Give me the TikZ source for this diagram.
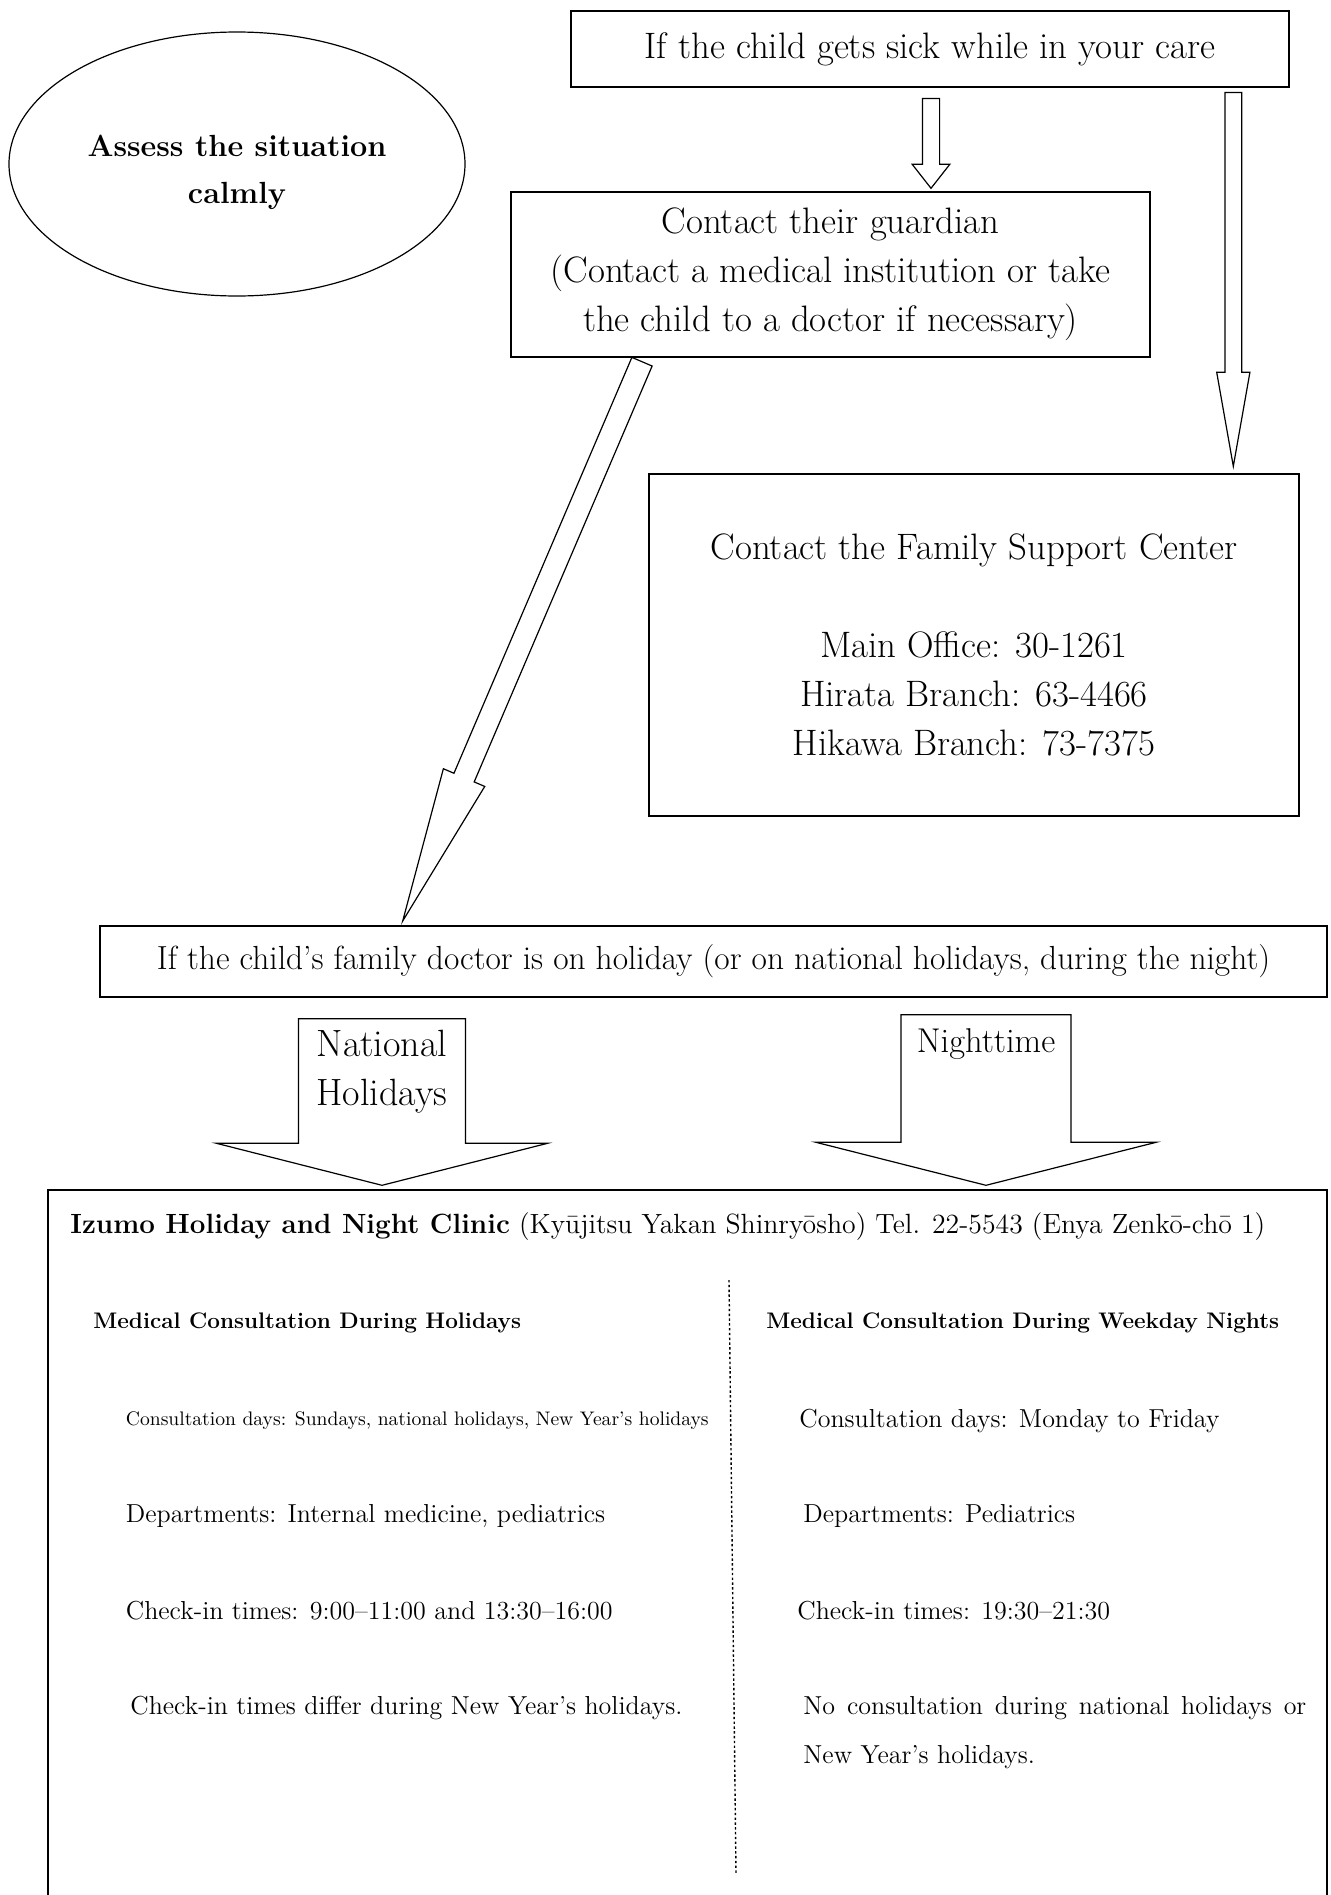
\documentclass[tikz,border=0pt]{standalone}
\usepackage{fontspec}
\usetikzlibrary{shapes.geometric,calc}

\tikzset{
	box/.style={draw,line width=0.7pt,rectangle,inner sep=0pt},
	fatline/.style={draw,line width=0.6pt,line join=miter},
	main/.style={font=\fontsize{18.4}{24.5}\selectfont,align=center},
	item/.style={font=\fontsize{13}{24.5}\selectfont,inner sep=0pt,anchor=west},
	head/.style={font=\fontsize{11.25}{14}\selectfont\bfseries,inner sep=0pt,anchor=west}
}

% hollow block arrow: start, tip, half shaft, half head, head length
\newcommand{\fatarrow}[5]{%
	\path ($(#2)!#5!(#1)$) coordinate (fa);
	\draw[fatline] ($(#1)!#3!90:(#2)$) -- ($(fa)!#3!-90:(#1)$) -- ($(fa)!#4!-90:(#1)$) -- (#2)
		-- ($(fa)!#4!90:(#1)$) -- ($(fa)!#3!90:(#1)$) -- ($(#1)!#3!-90:(#2)$) -- cycle;
}

\begin{document}
\begin{tikzpicture}[x=0.5pt,y=-0.5pt]
			\useasboundingbox (0,0) rectangle (1330,1895);
			% boxes
			\node[box,main,minimum width=359pt,minimum height=38pt] (top) at (930,49) {If the child gets sick while in your care};
			\node[draw,ellipse,line width=0.6pt,minimum width=228pt,minimum height=132pt] (calm) at (237,164) {};
			\node[font=\fontsize{15.3}{23.5}\selectfont\bfseries,align=center] (calmtext) at (237,172) {Assess the situation\\calmly};
			\node[box,main,minimum width=319.5pt,minimum height=82.5pt] (guardian) at (830.5,274.5) {Contact their guardian\\(Contact a medical institution or take\\the child to a doctor if necessary)};
			\node[box,main,minimum width=325pt,minimum height=171pt] (fsc) at (974,645) {Contact the Family Support Center\\[24.5pt]Main Office: 30-1261\\Hirata Branch: 63-4466\\Hikawa Branch: 73-7375};
			\node[box,minimum width=613.5pt,minimum height=35.5pt,font=\fontsize{16.7}{20}\selectfont] (doctor) at (713.5,961.5) {If the child’s family doctor is on holiday (or on national holidays, during the night)};
			\node[box,minimum width=639.5pt,minimum height=360pt] (clinic) at (687.5,1550) {};
			% arrows
			\coordinate (a1s) at ($(top.south)+(1,10.7)$);
			\coordinate (a1t) at ($(guardian.north)+(100.5,-3)$);
			\fatarrow{a1s}{a1t}{4.3pt}{9.4pt}{12pt}
			\coordinate (a2s) at ($(top.south)+(303.3,4.7)$);
			\coordinate (a2t) at ($(fsc.north)+(259.3,-7)$);
			\fatarrow{a2s}{a2t}{4.2pt}{8.3pt}{47pt}
			\coordinate (a3s) at ($(guardian.south)+(-188.5,4)$);
			\coordinate (a3t) at ($(doctor.north)+(-310.8,-4.3)$);
			\fatarrow{a3s}{a3t}{5.5pt}{11.25pt}{78pt}
			\coordinate (a4s) at ($(doctor.south)+(-331.5,21)$);
			\coordinate (a4t) at ($(clinic.north)+(-305.5,-4)$);
			\fatarrow{a4s}{a4t}{41.75pt}{82.75pt}{21pt}
			\coordinate (a5s) at ($(doctor.south)+(272.5,17)$);
			\coordinate (a5t) at ($(clinic.north)+(298.5,-4)$);
			\fatarrow{a5s}{a5t}{42.5pt}{85pt}{21.5pt}
			\node[main,font=\fontsize{19}{24.5}\selectfont] (natl) at (382,1072) {National\\Holidays};
			\node[main,font=\fontsize{17.2}{24.5}\selectfont] (night) at (986,1044) {Nighttime};
			% clinic
			\node[item,font=\fontsize{13.9}{16}\selectfont] (name) at (70,1227) {\textbf{Izumo Holiday and Night Clinic} (Kyūjitsu Yakan Shinryōsho) Tel. 22-5543 (Enya Zenkō-chō 1)};
			\node[head] (hol) at (93,1323) {Medical Consultation During Holidays};
			\node[head] (wkn) at (766,1323) {Medical Consultation During Weekday Nights};
			\node[item,font=\fontsize{9.8}{12}\selectfont] (holdays) at (125.5,1421) {Consultation days: Sundays, national holidays, New Year’s holidays};
			\node[item] (holdept) at (125.5,1516) {Departments: Internal medicine, pediatrics};
			\node[item] (holtime) at (125.5,1611) {Check-in times: 9:00–11:00 and 13:30–16:00};
			\node[item] (holnote) at (130,1708) {Check-in times differ during New Year’s holidays.};
			\node[item] (wkndays) at (799,1421) {Consultation days: Monday to Friday};
			\node[item] (wkndept) at (803,1516) {Departments: Pediatrics};
			\node[item] (wkntime) at (797,1611) {Check-in times: 19:30–21:30};
			\node[item,anchor=north west,text width=251.5pt,align=justify] (wknnote) at (803,1696) {No consultation during national holidays or\linebreak New Year’s holidays.};
			\draw[line width=0.7pt,dash pattern=on 1.2pt off 1.2pt] (729,1280) -- (736,1873);
\end{tikzpicture}
\end{document}
